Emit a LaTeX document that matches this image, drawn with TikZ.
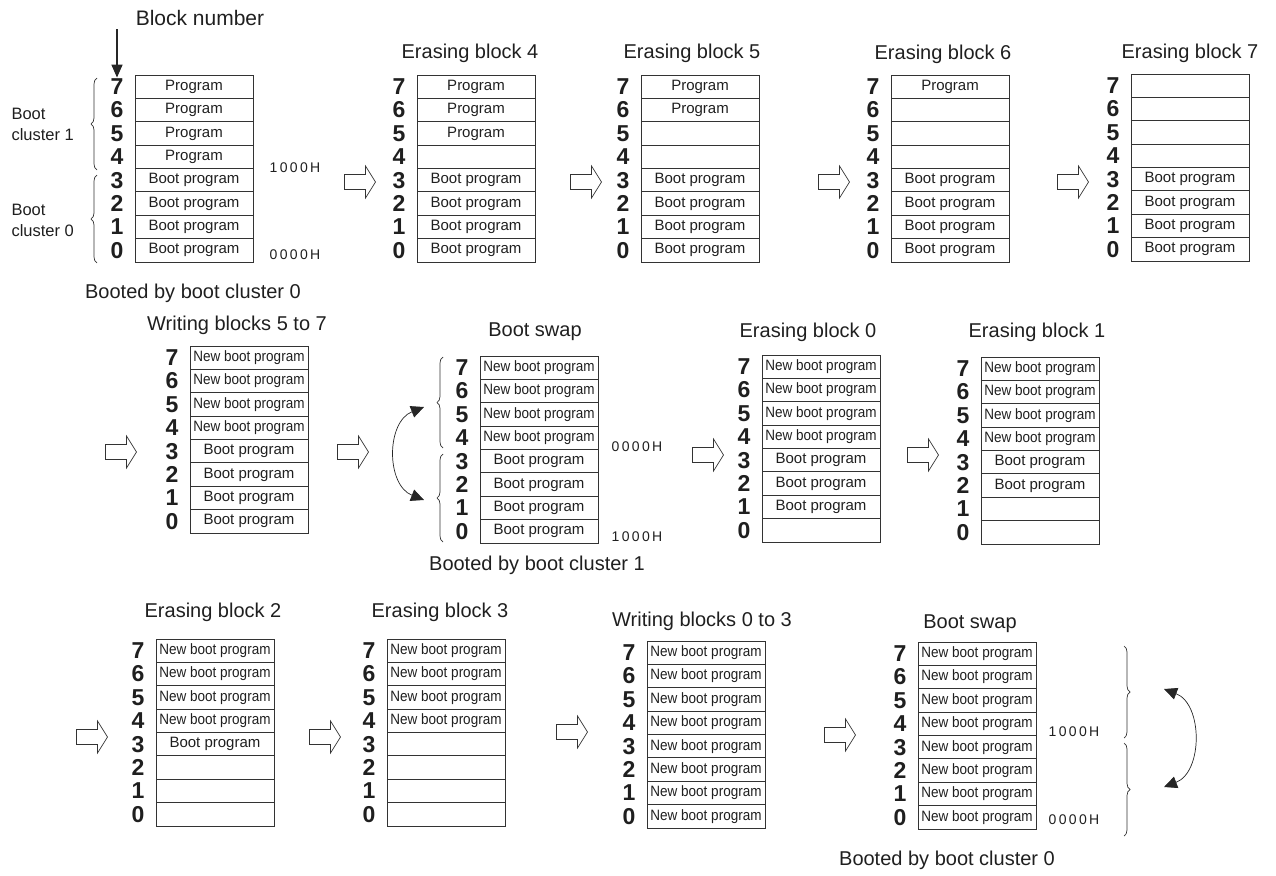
\documentclass[tikz,border=0pt]{standalone}
\usepackage{fontspec}
\setmainfont{Liberation Sans}
\usepackage{graphicx}
\usetikzlibrary{arrows.meta,decorations.pathreplacing}

\newcommand{\pg}{Program}
\newcommand{\bp}{Boot program}
\newcommand{\nb}{\scalebox{0.9}[1]{New boot program}}

% one block map: name, left x, top y, list of block/content
\newcommand{\blockmap}[4]{%
  \foreach \k/\txt in {#4} {
    \node[cell] (#1-\k) at ({#2+59}, {#3+23.375*(7-\k)+11.69}) {\txt};
    \node[blocknum] (#1-n\k) at ({#2-18}, {#3+23.375*(7-\k)+11.69}) {\k};
  }
}
% hollow step arrow: name, centre x, centre y
\newcommand{\hollowarrow}[3]{%
  \coordinate (#1) at (#2,#3);
  \draw[nextarrow] (#1) ++(-15.5,7.5) -- ++(21,0) -- ++(0,8.5) -- ++(10,-16) -- ++(-10,-16) -- ++(0,8.5) -- ++(-21,0) -- cycle;
}

\begin{document}
\begin{tikzpicture}[x=1pt, y=-1pt, text=black!88,
  cell/.style={draw=black!80, line width=0.8pt, minimum width=118pt, minimum height=23.375pt, inner sep=0pt, font=\fontsize{15}{18}\selectfont},
  blocknum/.style={inner sep=1pt, font=\fontsize{23}{25}\selectfont\bfseries},
  title/.style={font=\fontsize{20}{24}\selectfont},
  addr/.style={font=\fontsize{14}{16}\selectfont},
  note/.style={font=\fontsize{16.5}{21}\selectfont, align=left, anchor=west},
  nextarrow/.style={draw=black!80, line width=0.7pt, line join=miter},
  clusterbrace/.style={decorate, decoration={brace, amplitude=6pt}, line width=0.7pt, draw=black!80},
  swaparrow/.style={{Triangle[length=13pt,width=12pt]}-{Triangle[length=13pt,width=12pt]}, line width=0.7pt, draw=black!85}
]
  \useasboundingbox (0,0) rectangle (1276,875);

  % row 1
  \node[title, font=\fontsize{21}{24}\selectfont] (blocklbl) at (200,18) {Block number};
  \blockmap{start}{135}{75}{7/\pg,6/\pg,5/\pg,4/\pg,3/\bp,2/\bp,1/\bp,0/\bp}
  \draw[-{Triangle[length=13pt,width=11pt]}, line width=1.6pt, black!85] (blocklbl.south -| start-n7) -- (start-n7.north);
  \draw[clusterbrace] (97,263) -- (97,175);
  \draw[clusterbrace] (97,170) -- (97,78);
  \node[note] (cl1) at (8,124) {Boot\\cluster 1};
  \node[note] (cl0) at (8,220) {Boot\\cluster 0};
  \node[addr] (start-hi) at (295,168) {1\,0\,0\,0\,H};
  \node[addr] (start-lo) at (295,255) {0\,0\,0\,0\,H};
  \node[title] (start-boot) at (193,293) {Booted by boot cluster 0};

  \hollowarrow{arr1}{360}{182}
  \node[title] (eb4-title) at (470,53) {Erasing block 4};
  \blockmap{eb4}{417}{75}{7/\pg,6/\pg,5/\pg,4/{},3/\bp,2/\bp,1/\bp,0/\bp}

  \hollowarrow{arr2}{586}{182}
  \node[title] (eb5-title) at (692,53) {Erasing block 5};
  \blockmap{eb5}{641}{75}{7/\pg,6/\pg,5/{},4/{},3/\bp,2/\bp,1/\bp,0/\bp}

  \hollowarrow{arr3}{834}{182}
  \node[title] (eb6-title) at (943,54) {Erasing block 6};
  \blockmap{eb6}{891}{75}{7/\pg,6/{},5/{},4/{},3/\bp,2/\bp,1/\bp,0/\bp}

  \hollowarrow{arr4}{1073}{182}
  \node[title] (eb7-title) at (1190,53) {Erasing block 7};
  \blockmap{eb7}{1131}{74}{7/{},6/{},5/{},4/{},3/\bp,2/\bp,1/\bp,0/\bp}

  % row 2
  \hollowarrow{arr5}{121}{452}
  \node[title] (wb57-title) at (237,325) {Writing blocks 5 to 7};
  \blockmap{wb57}{190}{346}{7/\nb,6/\nb,5/\nb,4/\nb,3/\bp,2/\bp,1/\bp,0/\bp}

  \hollowarrow{arr6}{353}{452}
  \node[title] (swap1-title) at (535,332) {Boot swap};
  \blockmap{swap1}{480}{356}{7/\nb,6/\nb,5/\nb,4/\nb,3/\bp,2/\bp,1/\bp,0/\bp}
  \draw[clusterbrace] (443,448) -- (443,357);
  \draw[clusterbrace] (443,542) -- (443,454);
  \coordinate (swap1-a) at (424,407);
  \coordinate (swap1-b) at (424,500);
  \draw[swaparrow] (swap1-a) .. controls (386,422) and (386,485) .. (swap1-b);
  \node[addr] (swap1-lo) at (637,447) {0\,0\,0\,0\,H};
  \node[addr] (swap1-hi) at (637,537) {1\,0\,0\,0\,H};
  \node[title] (swap1-boot) at (537,565) {Booted by boot cluster 1};

  \hollowarrow{arr7}{708}{455}
  \node[title] (eb0-title) at (808,332) {Erasing block 0};
  \blockmap{eb0}{762}{355}{7/\nb,6/\nb,5/\nb,4/\nb,3/\bp,2/\bp,1/\bp,0/{}}

  \hollowarrow{arr8}{923}{455}
  \node[title] (eb1-title) at (1037,332) {Erasing block 1};
  \blockmap{eb1}{981}{357}{7/\nb,6/\nb,5/\nb,4/\nb,3/\bp,2/\bp,1/{},0/{}}

  % row 3
  \hollowarrow{arr9}{92}{737}
  \node[title] (eb2-title) at (213,612) {Erasing block 2};
  \blockmap{eb2}{156}{639}{7/\nb,6/\nb,5/\nb,4/\nb,3/\bp,2/{},1/{},0/{}}

  \hollowarrow{arr10}{325}{737}
  \node[title] (eb3-title) at (440,612) {Erasing block 3};
  \blockmap{eb3}{387}{639}{7/\nb,6/\nb,5/\nb,4/\nb,3/{},2/{},1/{},0/{}}

  \hollowarrow{arr11}{572}{732}
  \node[title] (wb03-title) at (702,621) {Writing blocks 0 to 3};
  \blockmap{wb03}{647}{641}{7/\nb,6/\nb,5/\nb,4/\nb,3/\nb,2/\nb,1/\nb,0/\nb}

  \hollowarrow{arr12}{840}{735}
  \node[title] (swap2-title) at (970,624) {Boot swap};
  \blockmap{swap2}{918}{642}{7/\nb,6/\nb,5/\nb,4/\nb,3/\nb,2/\nb,1/\nb,0/\nb}
  \draw[clusterbrace] (1124,646) -- (1124,738);
  \draw[clusterbrace] (1124,743) -- (1124,836);
  \coordinate (swap2-a) at (1164,689);
  \coordinate (swap2-b) at (1164,787);
  \draw[swaparrow] (swap2-a) .. controls (1203,704) and (1203,772) .. (swap2-b);
  \node[addr] (swap2-hi) at (1074,732) {1\,0\,0\,0\,H};
  \node[addr] (swap2-lo) at (1074,820) {0\,0\,0\,0\,H};
  \node[title] (swap2-boot) at (947,860) {Booted by boot cluster 0};
\end{tikzpicture}
\end{document}
